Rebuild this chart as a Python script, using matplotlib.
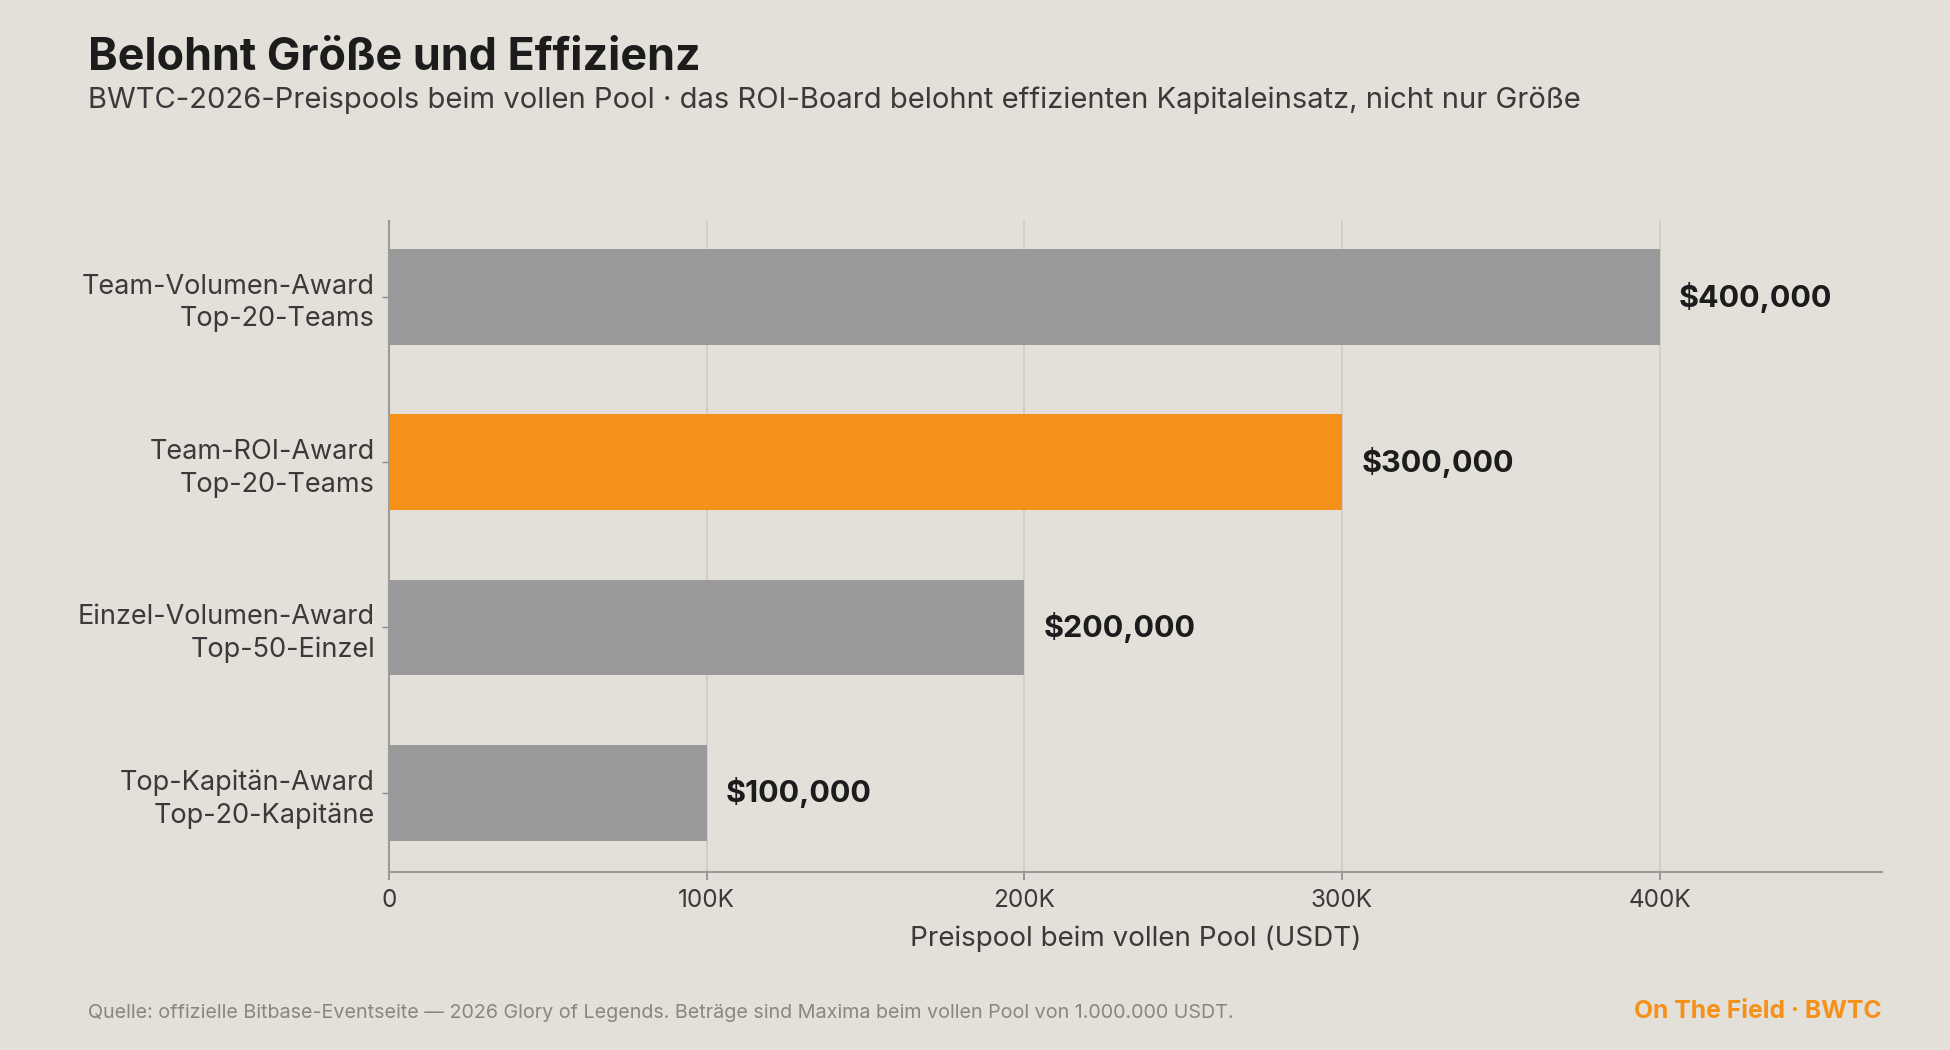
import matplotlib.pyplot as plt
from matplotlib.ticker import FuncFormatter

plt.rcParams['font.family'] = ['Inter', 'DejaVu Sans']

# data
categories = ['Team-Volumen-Award\nTop-20-Teams',
              'Team-ROI-Award\nTop-20-Teams',
              'Einzel-Volumen-Award\nTop-50-Einzel',
              'Top-Kapitän-Award\nTop-20-Kapitäne']
values = [400000, 300000, 200000, 100000]
highlight = [False, True, False, False]
xticks = [0, 100000, 200000, 300000, 400000]

bg = '#e3dfd9'
grey_bar = '#9a9a9a'
orange = '#f59018'
dark = '#1c1c1c'
mid = '#3a3a3a'

fig = plt.figure(figsize=(19.5, 10.5), dpi=100, facecolor=bg)
ax = fig.add_axes([389/1950, 1-872/1050, (1882-389)/1950, (872-221)/1050])
ax.set_facecolor(bg)

ypos = list(range(len(categories)))
colors = [orange if h else grey_bar for h in highlight]
bars = ax.barh(ypos, values, height=0.58, color=colors, zorder=3)

for y, v in zip(ypos, values):
    ax.annotate(f'${v:,.0f}', xy=(v, y), xytext=(14, 0), textcoords='offset points',
                va='center', ha='left', fontsize=22, fontweight='bold', color=dark)

ax.set_xlim(0, 470000)
ax.set_ylim(len(categories) - 0.52, -0.46)
ax.set_yticks(ypos)
ax.set_yticklabels(categories, fontsize=19.5, color=mid, linespacing=1.32)
ax.set_xticks(xticks)
ax.xaxis.set_major_formatter(FuncFormatter(lambda x, p: '0' if x == 0 else f'{int(x/1000)}K'))
ax.tick_params(axis='x', labelsize=17.5, labelcolor=mid, color='#8a8a8a', length=6, width=1.2, pad=6)
ax.tick_params(axis='y', color='#8a8a8a', length=5, width=1, pad=5)
ax.grid(axis='x', color='#cfcac3', linewidth=1.2, zorder=0)
ax.set_axisbelow(True)
for s in ['top', 'right']:
    ax.spines[s].set_visible(False)
for s in ['left', 'bottom']:
    ax.spines[s].set_color('#9a9a9a')
    ax.spines[s].set_linewidth(1.5)
ax.set_xlabel('Preispool beim vollen Pool (USDT)', fontsize=20, color=mid, labelpad=10)

fig.text(88/1950, 1-70/1050, 'Belohnt Größe und Effizienz', fontsize=32.3, fontweight='bold',
         color=dark, va='baseline', ha='left')
fig.text(88/1950, 1-108/1050,
         'BWTC-2026-Preispools beim vollen Pool · das ROI-Board belohnt effizienten Kapitaleinsatz, nicht nur Größe',
         fontsize=21, color=mid, va='baseline', ha='left')
fig.text(88/1950, 1-1018/1050,
         'Quelle: offizielle Bitbase-Eventseite — 2026 Glory of Legends. Beträge sind Maxima beim vollen Pool von 1.000.000 USDT.',
         fontsize=14.2, color='#8a8580', va='baseline', ha='left')
fig.text(1882/1950, 1-1018/1050, 'On The Field · BWTC', fontsize=17.8, fontweight='bold',
         color=orange, va='baseline', ha='right')

fig.savefig('out.png', dpi=100, facecolor=bg)
